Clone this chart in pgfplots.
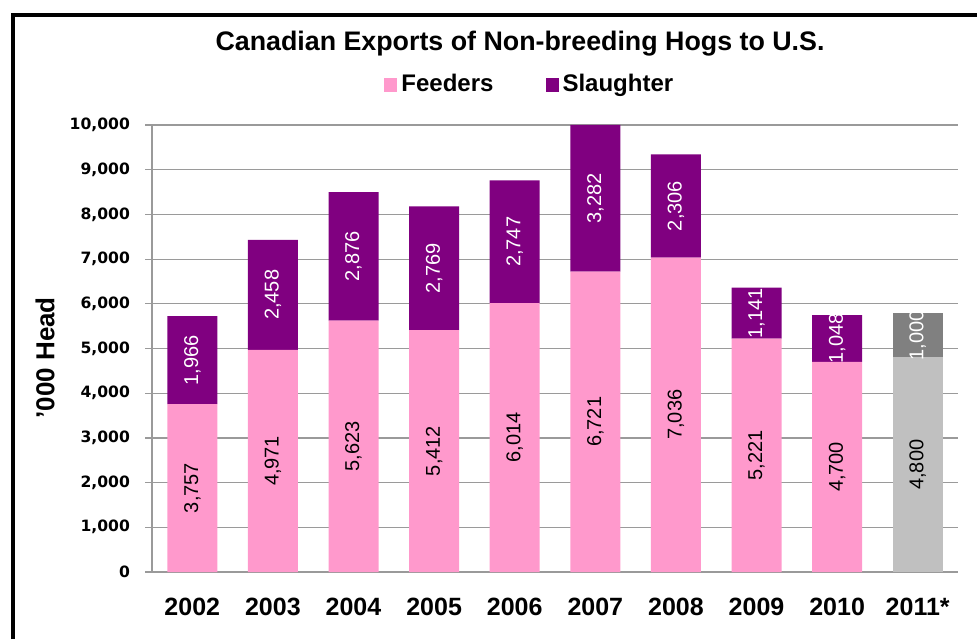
\documentclass[border=0pt]{standalone}
\usepackage{pgfplots}
\usepackage{pgfplotstable}
\pgfplotsset{compat=1.18}
\usepackage{fontspec}
\setmainfont{Liberation Sans}
\newfontfamily\tickfont{DejaVu Sans}
\definecolor{feed}{HTML}{FF99CC}
\definecolor{slau}{HTML}{800080}
\definecolor{lgr}{HTML}{C0C0C0}
\definecolor{dgr}{HTML}{808080}
\definecolor{gridc}{HTML}{9A9A9A}

% feeders / slaughter, 2011* (estimate) kept in separate grey columns
\pgfplotstableread{
x feed slau fgray sgray
0 3757 1966 0    0
1 4971 2458 0    0
2 5623 2876 0    0
3 5412 2769 0    0
4 6014 2747 0    0
5 6721 3282 0    0
6 7036 2306 0    0
7 5221 1141 0    0
8 4700 1048 0    0
9 0    0    4800 1000
}\hogdata

\begin{document}
\begin{tikzpicture}[x=0.5pt,y=0.5pt]
\path[use as bounding box] (0,0) rectangle (977,639);
\draw[line width=2pt] (13,0) -- (13,623.5) -- (977,623.5);
\node[font=\bfseries\fontsize{13.4}{15}\selectfont] at (520,595) {Canadian Exports of Non-breeding Hogs to U.S.};

\begin{axis}[
  at={(76pt,33.5pt)}, anchor=south west,
  scale only axis, width=403pt, height=223.6pt,
  ybar stacked, bar width=25pt,
  xmin=-0.5, xmax=9.5, ymin=0, ymax=10005,
  xtick={0,...,9},
  xticklabels={2002,2003,2004,2005,2006,2007,2008,2009,2010,2011*},
  x tick label style={font=\bfseries\fontsize{12.5}{14}\selectfont, yshift=-6pt},
  major x tick style={draw=none},
  extra x ticks={-0.5,0.5,...,9.5},
  extra x tick labels={},
  extra x tick style={grid=none, major tick length=3pt, tick style={gridc, line width=0.6pt}},
  ytick={0,1000,...,10000},
  scaled y ticks=false,
  y tick label style={font=\tickfont\bfseries\fontsize{7.8}{9}\selectfont, xshift=-4pt},
  /pgf/number format/assume math mode=true,
  tick align=outside, major tick length=3.5pt,
  tick style={gridc, line width=0.6pt},
  ymajorgrids, grid style={gridc, line width=0.6pt},
  axis x line*=bottom, axis y line*=left,
  axis line style={gridc, line width=0.6pt},
  ylabel={'000 Head},
  every axis y label/.style={at={(axis description cs:0,0.479)}, xshift=-53.5pt,
    rotate=90, anchor=center, font=\bfseries\fontsize{13}{15}\selectfont},
  legend columns=2,
  legend style={at={(axis description cs:0.47,1.0895)}, anchor=center,
    draw=none, fill=none, font=\bfseries\fontsize{12}{14}\selectfont,
    /tikz/every even column/.append style={column sep=24pt}},
  legend image code/.code={\fill[#1] (0pt,-3.4pt) rectangle (6.5pt,3.4pt);},
  % stacked bars put these in the middle of each segment
  nodes near coords={\pgfmathfloatifflags{\pgfplotspointmeta}{0}{}{\pgfmathprintnumber{\pgfplotspointmeta}}},
  every node near coord/.append style={anchor=center, rotate=90,
    font=\fontsize{10}{12}\selectfont},
]
\addplot[fill=feed, draw=none, every node near coord/.append style={black}] table[x=x, y=feed] {\hogdata};
\addlegendentry{Feeders}
\addplot[fill=slau, draw=none, every node near coord/.append style={white}] table[x=x, y=slau] {\hogdata};
\addlegendentry{Slaughter}
\addplot[fill=lgr, draw=none, forget plot, every node near coord/.append style={black}] table[x=x, y=fgray] {\hogdata};
\addplot[fill=dgr, draw=none, forget plot, every node near coord/.append style={white}] table[x=x, y=sgray] {\hogdata};
\end{axis}
\end{tikzpicture}
\end{document}
